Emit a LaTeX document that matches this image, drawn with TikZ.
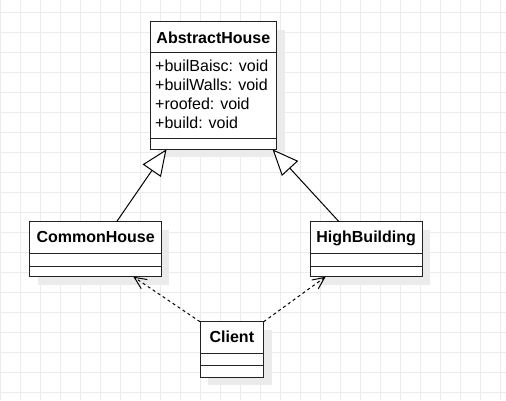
\documentclass[tikz,border=0pt]{standalone}
\usepackage{fontspec}
\setmainfont{Liberation Sans}
\usetikzlibrary{arrows.meta,shadows}
\definecolor{gridc}{HTML}{EBEBEB}
\definecolor{shadc}{HTML}{EBEBEB}
\definecolor{boxc}{HTML}{222222}
\tikzset{
  gridline/.style={draw=gridc, line width=1bp},
  cls/.style={draw=boxc, line width=1bp, fill=white, rectangle, inner sep=0pt, outer sep=0pt,
    drop shadow={shadow xshift=8bp, shadow yshift=-8bp, fill=shadc, opacity=1}},
  sepline/.style={draw=boxc, line width=1bp},
  title/.style={font=\bfseries\fontsize{16bp}{19bp}\selectfont, anchor=base, inner sep=0pt},
  attr/.style={font=\fontsize{16bp}{19bp}\selectfont, anchor=base west, inner sep=0pt},
  inherit/.style={draw=black, line width=1bp, -{Triangle[length=26bp, width=22bp, fill=white]}},
  depend/.style={draw=black, line width=1bp, dash pattern=on 3bp off 3bp,
    -{Straight Barb[length=12bp, width=11bp]}},
}
\begin{document}
\begin{tikzpicture}[x=1bp,y=-1bp]
\useasboundingbox (0,0) rectangle (506,400);
\fill[white] (0,0) rectangle (506,400);
% grid
\foreach \x in {0,20,...,500} \draw[gridline] (\x+0.5,0) -- (\x+0.5,400);
\foreach \y in {12,32,...,392} \draw[gridline] (0,\y+0.5) -- (506,\y+0.5);

% AbstractHouse
\node[cls, minimum width=126.7bp, minimum height=127.6bp] (abs) at (213.35,85.5) {};
\draw[sepline] (abs.west |- 0,52.7) -- (abs.east |- 0,52.7);
\draw[sepline] (abs.west |- 0,138.3) -- (abs.east |- 0,138.3);
\node[title] (absT) at (213.35,43.3) {AbstractHouse};
\node[attr] (absA1) at (155,71.7) {+builBaisc: void};
\node[attr] (absA2) at (155,90.6) {+builWalls: void};
\node[attr] (absA3) at (155,109.5) {+roofed: void};
\node[attr] (absA4) at (155,128.4) {+build: void};

% CommonHouse
\node[cls, minimum width=131.3bp, minimum height=55bp] (ch) at (95.65,249.2) {};
\draw[sepline] (ch.west |- 0,253.3) -- (ch.east |- 0,253.3);
\draw[sepline] (ch.west |- 0,266) -- (ch.east |- 0,266);
\node[title] (chT) at (95.65,242.3) {CommonHouse};

% HighBuilding
\node[cls, minimum width=112.3bp, minimum height=55bp] (hb) at (366.15,249.2) {};
\draw[sepline] (hb.west |- 0,253.3) -- (hb.east |- 0,253.3);
\draw[sepline] (hb.west |- 0,266) -- (hb.east |- 0,266);
\node[title] (hbT) at (366.15,242.3) {HighBuilding};

% Client
\node[cls, minimum width=63.7bp, minimum height=55.6bp] (cl) at (231.85,349.5) {};
\draw[sepline] (cl.west |- 0,353.3) -- (cl.east |- 0,353.3);
\draw[sepline] (cl.west |- 0,365.7) -- (cl.east |- 0,365.7);
\node[title] (clT) at (231.85,342.7) {Client};

% inheritance
\draw[inherit] ([xshift=21bp]ch.north) -- ([xshift=-46.85bp]abs.south);
\draw[inherit] ([xshift=-27.15bp]hb.north) -- ([xshift=59.15bp]abs.south);

% dependencies
\draw[depend] (cl.north west) -- ([xshift=37.7bp]ch.south);
\draw[depend] (cl.north east) -- ([xshift=-40.5bp]hb.south);
\end{tikzpicture}
\end{document}
